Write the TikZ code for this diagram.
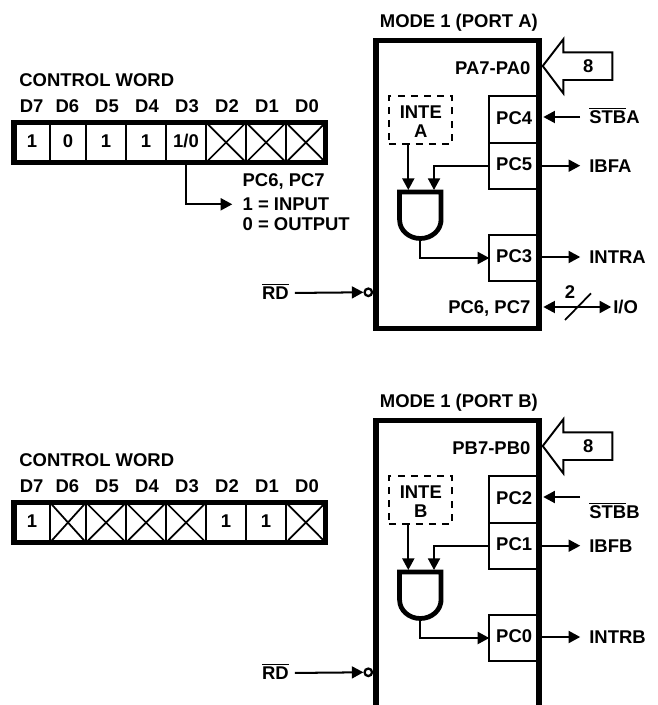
\documentclass[tikz,border=0pt]{standalone}
\usepackage{fontspec}
\setmainfont{Liberation Sans}
\usetikzlibrary{arrows.meta}
\def\barred#1{$\overline{\mbox{#1}}$}
\tikzset{
	every node/.style={font=\fontsize{10.5}{12}\selectfont\bfseries, inner sep=0},
	lab/.style={text height=7.5pt, text depth=0pt},
	thinbox/.style={draw, line width=1.1pt, outer sep=0},
	bitcell/.style={thinbox, minimum width=0.8cm, minimum height=0.8cm, text height=7.5pt, text depth=1.7pt},
	widecell/.style={bitcell, minimum width=0.72cm},
	lastcell/.style={bitcell, minimum width=0.794cm},
	wordbox/.style={draw, line width=2.95pt, minimum width=6.234cm, minimum height=0.8cm},
	modebox/.style={draw, line width=2.95pt, minimum width=3.26cm, minimum height=5.76cm},
	pcbox/.style={thinbox, minimum width=0.994cm, minimum height=0.934cm, text height=7.5pt, text depth=2.2pt},
	intebox/.style={draw, line width=1.2pt, dash pattern=on 4pt off 3.5pt, minimum width=1.248cm, minimum height=0.972cm},
	bubble/.style={draw, circle, line width=1.3pt, minimum size=0.15cm},
	sig/.style={line width=1.15pt, -{Triangle[length=6.6pt, width=6.8pt]}},
	wire/.style={line width=1pt},
	gateline/.style={line width=2.7pt},
	fatarrow/.style={line width=1.1pt, line join=miter}
}
\begin{document}
\begin{tikzpicture}[x=0.02cm, y=-0.02cm]
			%%%%% START %%%%%
			\useasboundingbox (0,0) rectangle (657,705);
			
			\node[lab, anchor=west] (wordatitle) at (19,80) {CONTROL WORD};
			\node[lab] (dasev) at (31.7,106) {D7};
			\node[lab] (dasix) at (67.3,106) {D6};
			\node[lab] (dafiv) at (107,106) {D5};
			\node[lab] (dafou) at (147,106) {D4};
			\node[lab] (dathr) at (187,106) {D3};
			\node[lab] (datwo) at (227,106) {D2};
			\node[lab] (daone) at (267,106) {D1};
			\node[lab] (dazer) at (307,106) {D0};
			
			\node[widecell] (casev) at (32,142.5) {1};
			\node[widecell] (casix) at (68,142.5) {0};
			\node[bitcell] (cafiv) at (106,142.5) {1};
			\node[bitcell] (cafou) at (146,142.5) {1};
			\node[bitcell] (cathr) at (186,142.5) {1/0};
			\node[bitcell] (catwo) at (226,142.5) {};
			\node[bitcell] (caone) at (266,142.5) {};
			\node[lastcell] (cazer) at (305.85,142.5) {};
			\draw[wire] (catwo.north west) -- (catwo.south east);
			\draw[wire] (catwo.south west) -- (catwo.north east);
			\draw[wire] (caone.north west) -- (caone.south east);
			\draw[wire] (caone.south west) -- (caone.north east);
			\draw[wire] (cazer.north west) -- (cazer.south east);
			\draw[wire] (cazer.south west) -- (cazer.north east);
			\node[wordbox] (worda) at (169.85,142.5) {};
			
			\node[lab, anchor=west] (pcsel) at (242.3,180.3) {PC6, PC7};
			\node[lab, anchor=west] (inpsel) at (242.3,204.3) {1 = INPUT};
			\node[lab, anchor=west] (outsel) at (242.3,224.3) {0 = OUTPUT};
			\draw[sig, shorten >=5.7pt] (cathr.south) |- (inpsel.west);
			
			\node[pcbox] (pcfour) at (514.15,119.35) {PC4};
			\node[pcbox] (pcfive) at (514.15,165.85) {PC5};
			\node[pcbox] (pcthre) at (514.15,258) {PC3};
			\node[modebox] (modea) at (457.5,184.5) {};
			\node[lab] (modeatitle) at (458.8,20.7) {MODE 1 (PORT A)};
			\node[lab, anchor=east] (palab) at (530.7,67.7) {PA7-PA0};
			\node[lab, anchor=east] (pcio) at (530.7,307) {PC6, PC7};
			
			\draw[fatarrow] (542.7,66) -- (563.3,39.3) -- (563.3,52.3) -- (612.3,52.3) -- (612.3,80) -- (563.3,80) -- (563.3,93.3) -- cycle;
			\node[lab] (eighta) at (588.3,65.7) {8};
			
			\node[intebox] (intea) at (420.5,120) {};
			\node[lab] (inteatop) at (420.8,111.7) {INTE};
			\node[lab] (inteabot) at (420.8,131) {A};
			
			\coordinate (gateain) at (408.3,190);
			\coordinate (gateaib) at (434,190);
			\coordinate (gateaout) at (420.3,238.5);
			\draw[gateline] (441,220) -- (441,192) -- (399.6,192) -- (399.6,220) arc (180:0:20.7 and 18.5) -- cycle;
			\draw[sig] (gateain |- intea.south) -- (gateain);
			\draw[sig] (pcfive.west) -| (gateaib);
			\draw[sig] (gateaout) |- (pcthre.west);
			
			\node[lab, anchor=west] (stba) at (589,117) {\barred{STB}A};
			\node[lab, anchor=west] (ibfa) at (589,165.7) {IBFA};
			\node[lab, anchor=west] (intra) at (589,257) {INTRA};
			\node[lab, anchor=west] (ioa) at (613,307) {I/O};
			\node[lab] (twoa) at (570,291.7) {2};
			\draw[sig, shorten <=5pt, shorten >=1pt] (stba.west) -- (stba.west -| modea.east);
			\draw[sig, shorten >=5pt] (ibfa.west -| modea.east) -- (ibfa.west);
			\draw[sig, shorten >=5pt] (intra.west -| modea.east) -- (intra.west);
			\draw[sig, {Triangle[length=6.6pt, width=6.8pt]}-{Triangle[length=6.6pt, width=6.8pt]}, shorten <=1pt, shorten >=1pt] (ioa.west -| modea.east) -- (ioa.west);
			\coordinate (slashaa) at (565,320);
			\coordinate (slashab) at (591,293.3);
			\draw[wire] (slashaa) -- (slashab);
			
			\node[lab, anchor=east] (rda) at (289,293) {\barred{RD}};
			\node[bubble] (buba) at (368.3,292.3) {};
			\draw[sig, shorten <=3.4pt] (rda.east) -- (buba.west);
			
			\node[lab, anchor=west] (wordbtitle) at (19,460) {CONTROL WORD};
			\node[lab] (dbsev) at (31.7,486) {D7};
			\node[lab] (dbsix) at (67.3,486) {D6};
			\node[lab] (dbfiv) at (107,486) {D5};
			\node[lab] (dbfou) at (147,486) {D4};
			\node[lab] (dbthr) at (187,486) {D3};
			\node[lab] (dbtwo) at (227,486) {D2};
			\node[lab] (dbone) at (267,486) {D1};
			\node[lab] (dbzer) at (307,486) {D0};
			
			\node[widecell] (cbsev) at (32,522.5) {1};
			\node[widecell] (cbsix) at (68,522.5) {};
			\node[bitcell] (cbfiv) at (106,522.5) {};
			\node[bitcell] (cbfou) at (146,522.5) {};
			\node[bitcell] (cbthr) at (186,522.5) {};
			\node[bitcell] (cbtwo) at (226,522.5) {1};
			\node[bitcell] (cbone) at (266,522.5) {1};
			\node[lastcell] (cbzer) at (305.85,522.5) {};
			\draw[wire] (cbsix.north west) -- (cbsix.south east);
			\draw[wire] (cbsix.south west) -- (cbsix.north east);
			\draw[wire] (cbfiv.north west) -- (cbfiv.south east);
			\draw[wire] (cbfiv.south west) -- (cbfiv.north east);
			\draw[wire] (cbfou.north west) -- (cbfou.south east);
			\draw[wire] (cbfou.south west) -- (cbfou.north east);
			\draw[wire] (cbthr.north west) -- (cbthr.south east);
			\draw[wire] (cbthr.south west) -- (cbthr.north east);
			\draw[wire] (cbzer.north west) -- (cbzer.south east);
			\draw[wire] (cbzer.south west) -- (cbzer.north east);
			\node[wordbox] (wordb) at (169.85,522.5) {};
			
			\node[pcbox] (pctwo) at (514.15,499.35) {PC2};
			\node[pcbox] (pcone) at (514.15,545.85) {PC1};
			\node[pcbox] (pczer) at (514.15,638) {PC0};
			\coordinate (modebsw) at (376,705);
			\coordinate (modebnw) at (376,420.5);
			\coordinate (modebne) at (539,420.5);
			\coordinate (modebse) at (539,705);
			\coordinate (modebedge) at (541.5,420.5);
			\draw[line width=2.95pt] (modebsw) -- (modebnw) -- (modebne) -- (modebse);
			\node[lab] (modebtitle) at (458.8,400.7) {MODE 1 (PORT B)};
			\node[lab, anchor=east] (pblab) at (530.7,447.7) {PB7-PB0};
			
			\draw[fatarrow] (542.7,446) -- (563.3,419.3) -- (563.3,432.3) -- (612.3,432.3) -- (612.3,460) -- (563.3,460) -- (563.3,473.3) -- cycle;
			\node[lab] (eightb) at (588.3,445.7) {8};
			
			\node[intebox] (inteb) at (420.5,500) {};
			\node[lab] (intebtop) at (420.8,491.7) {INTE};
			\node[lab] (intebbot) at (420.8,511) {B};
			
			\coordinate (gatebin) at (408.3,570);
			\coordinate (gatebib) at (434,570);
			\coordinate (gatebout) at (420.3,618.5);
			\draw[gateline] (441,600) -- (441,572) -- (399.6,572) -- (399.6,600) arc (180:0:20.7 and 18.5) -- cycle;
			\draw[sig] (gatebin |- inteb.south) -- (gatebin);
			\draw[sig] (pcone.west) -| (gatebib);
			\draw[sig] (gatebout) |- (pczer.west);
			
			\node[lab, anchor=west] (stbb) at (589,511.7) {\barred{STB}B};
			\node[lab, anchor=west] (ibfb) at (589,545.7) {IBFB};
			\node[lab, anchor=west] (intrb) at (589,637) {INTRB};
			\coordinate (stbbstart) at (580,497);
			\draw[sig, shorten >=1pt] (stbbstart) -- (stbbstart -| modebedge);
			\draw[sig, shorten >=5pt] (ibfb.west -| modebedge) -- (ibfb.west);
			\draw[sig, shorten >=5pt] (intrb.west -| modebedge) -- (intrb.west);
			
			\node[lab, anchor=east] (rdb) at (289,673) {\barred{RD}};
			\node[bubble] (bubb) at (368.3,672.3) {};
			\draw[sig, shorten <=3.4pt] (rdb.east) -- (bubb.west);
			
			%%%%% END %%%%%
		\end{tikzpicture}
\end{document}
